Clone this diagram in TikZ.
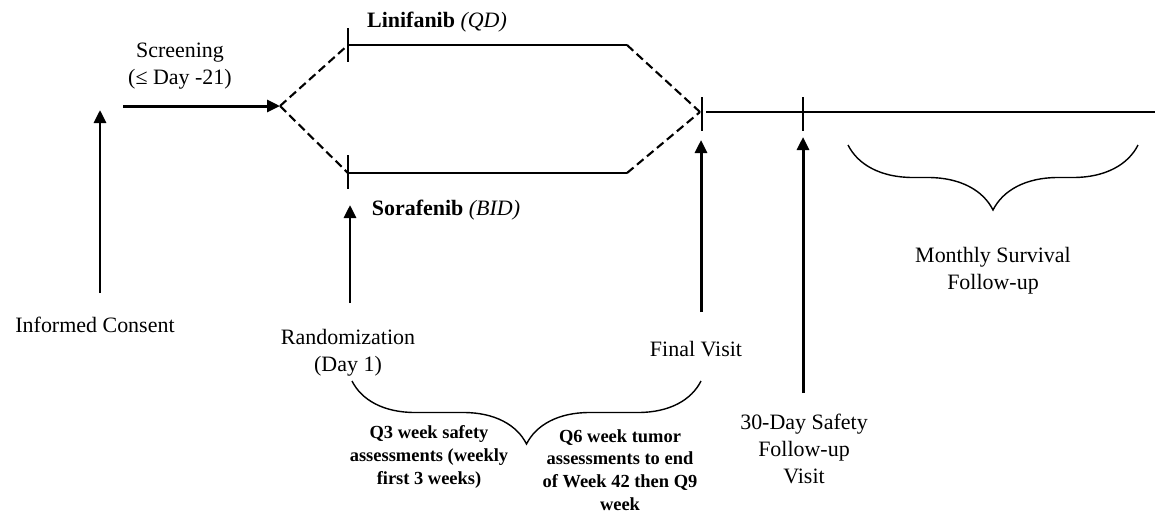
\documentclass[tikz,border=0pt]{standalone}
\usepackage{fontspec}
\setmainfont{Liberation Serif}
\usetikzlibrary{arrows.meta, positioning, decorations.pathreplacing}
\newcommand{\txtsize}{\fontsize{12.5}{15.5}\selectfont}
\newcommand{\notesize}{\fontsize{10.5}{13}\selectfont}

\begin{document}
\begin{tikzpicture}[x=0.02cm, y=-0.02cm, txt/.style={font=\txtsize, align=center, inner sep=1pt}, note/.style={font=\notesize\bfseries, align=center, inner sep=1pt}, arm/.style={line width=0.8pt}, tickmark/.style={line width=0.7pt}, dashline/.style={line width=1.2pt, dash pattern=on 0.17cm off 0.09cm}, visit/.style={line width=1.7pt, -{Triangle[length=2.6mm, width=2.4mm]}}, curly/.style={decorate, decoration={brace, mirror, amplitude=#1}, line width=0.8pt}]

            \useasboundingbox (0,0) rectangle (1155,512);

            % timeline points
            \coordinate (scr) at (123,106);
            \coordinate (fork) at (280,106);
            \coordinate (linS) at (348,45);
            \coordinate (linE) at (627,45);
            \coordinate (sorS) at (348,173);
            \coordinate (sorE) at (627,173);
            \coordinate (merge) at (700,112);
            \coordinate (fupS) at (706,112);
            \coordinate (fupE) at (1155,112);

            \node[txt] (screen) at (180,66) {Screening\\(≤ Day -21)};
            \node[txt, font=\txtsize\bfseries] (lini) at (437,22) {Linifanib \textmd{\textit{(QD)}}};
            \node[txt, font=\txtsize\bfseries] (sora) at (446,210) {Sorafenib \textmd{\textit{(BID)}}};
            \node[txt] (consent) at (95,325) {Informed Consent};
            \node[txt] (random) at (348,353) {Randomization\\(Day 1)};
            \node[txt] (final) at (696,349) {Final Visit};
            \node[txt] (safety) at (804,449) {30-Day Safety\\Follow-up\\Visit};
            \node[txt] (survival) at (993,271) {Monthly Survival\\Follow-up};
            \node[note] (q3) at (429,457) {Q3 week safety\\assessments (weekly\\first 3 weeks)};
            \node[note] (q6) at (620,470) {Q6 week tumor\\assessments to end\\of Week 42 then Q9\\week};

            % arrow ends
            \coordinate (icTop) at (100,110);
            \coordinate (icBot) at (100,293);
            \coordinate (rndTop) at (350,205);
            \coordinate (rndBot) at (350,303);
            \coordinate (fvTop) at (701,140);
            \coordinate (fvBot) at (701,312);
            \coordinate (sfTop) at (803,137);
            \coordinate (sfBot) at (803,393);

            % brace ends
            \coordinate (trtL) at (352,381);
            \coordinate (trtR) at (701,381);
            \coordinate (monL) at (848,145);
            \coordinate (monR) at (1138,145);

            \path[visit]
            (scr) edge (fork)
            (icBot) edge (icTop)
            (rndBot) edge (rndTop)
            (fvBot) edge (fvTop)
            (sfBot) edge (sfTop)
            ;

            \path[dashline]
            (fork) edge (linS)
            (fork) edge (sorS)
            (linE) edge (merge)
            (sorE) edge (merge)
            ;

            \path[arm]
            (linS) edge (linE)
            (sorS) edge (sorE)
            (fupS) edge (fupE)
            ;

            \foreach \x/\y in {348/45, 348/172, 702/114, 803/114}
                \draw[tickmark] (\x,\y-17) -- (\x,\y+17);

            \draw[curly=1.26cm] (trtL) -- (trtR);
            \draw[curly=1.3cm] (monL) -- (monR);

        \end{tikzpicture}
\end{document}
